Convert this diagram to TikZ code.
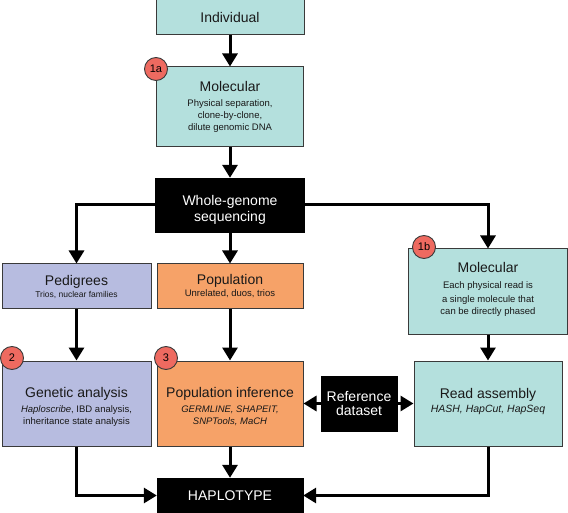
\documentclass[tikz,border=0pt]{standalone}
\usepackage{fontspec}
\setmainfont{Liberation Sans}
\usetikzlibrary{arrows.meta}
\definecolor{tealbox}{HTML}{B4E0DD}
\definecolor{lavbox}{HTML}{B7BCE0}
\definecolor{orgbox}{HTML}{F6A268}
\definecolor{redc}{HTML}{EE6A60}
\definecolor{edgec}{HTML}{3A3A3A}
\newcommand{\ttl}{\fontsize{14}{16}\selectfont}
\newcommand{\sbt}{\fontsize{9.5}{12}\selectfont}
\newcommand{\upstrut}[1]{\rule{0pt}{#1}}
\newcommand{\dnstrut}[1]{\rule[-#1]{0pt}{#1}}
\tikzset{
  box/.style={draw=edgec, line width=1pt, align=center, inner sep=2pt, text=black!90},
  blk/.style={fill=black, draw=black, align=center, text=white, inner sep=2pt},
  badge/.style={circle, draw=edgec, line width=0.9pt, fill=redc, minimum size=23pt, inner sep=0pt, font=\fontsize{11}{12}\selectfont},
  conn/.style={line width=3pt, -{Triangle[length=13pt,width=15pt]}}
}
\begin{document}
\begin{tikzpicture}[x=1pt,y=-1pt]
\useasboundingbox (0,0) rectangle (568,513);
% boxes
\node[box, fill=tealbox, minimum width=148pt, minimum height=35pt] (ind) at (230,17.5) {\ttl Individual};
\node[box, fill=tealbox, minimum width=147pt, minimum height=80pt] (molA) at (230,107) {\ttl Molecular\\[3pt]\sbt Physical separation,\\\sbt clone-by-clone,\\\sbt dilute genomic DNA};
\node[blk, minimum width=149pt, minimum height=54pt] (wgs) at (230,205) {\ttl\upstrut{19pt}Whole-genome\\[2pt]\ttl sequencing};
\node[box, fill=lavbox, minimum width=149pt, minimum height=45pt] (ped) at (76.5,286.5) {\ttl Pedigrees\\\fontsize{8.5}{10}\selectfont Trios, nuclear families};
\node[box, fill=orgbox, minimum width=146pt, minimum height=45pt] (pop) at (230,286.5) {\ttl Population\\\sbt Unrelated, duos, trios};
\node[box, fill=tealbox, minimum width=159pt, minimum height=85pt] (molB) at (488,291.5) {\ttl Molecular\\[4pt]\sbt Each physical read is\\[2pt]\sbt a single molecule that\\\sbt can be directly phased\dnstrut{7pt}};
\node[box, fill=lavbox, minimum width=149pt, minimum height=85pt] (gen) at (76.5,403.5) {\ttl\upstrut{17pt}Genetic analysis\\[3pt]\sbt\itshape Haploscribe\upshape, IBD analysis,\\\sbt inheritance state analysis};
\node[box, fill=orgbox, minimum width=146pt, minimum height=85pt] (popinf) at (230,403.5) {\ttl\upstrut{17pt}Population inference\\[3pt]\sbt\itshape GERMLINE, SHAPEIT,\\\sbt\itshape SNPTools, MaCH};
\node[blk, minimum width=76pt, minimum height=55pt] (ref) at (359,403.5) {\ttl Reference\\[2pt]\ttl dataset};
\node[box, fill=tealbox, minimum width=148pt, minimum height=85pt] (read) at (488,403.5) {\ttl Read assembly\\[2pt]\fontsize{10.5}{12}\selectfont\itshape HASH, HapCut, HapSeq\dnstrut{7pt}};
\node[blk, minimum width=146pt, minimum height=35pt] (hap) at (230,495.5) {\ttl HAPLOTYPE};
% badges
\node[badge] (bA) at (156,69) {1a};
\node[badge] (bB) at (424,247) {1b};
\node[badge] (b2) at (12,358) {2};
\node[badge] (b3) at (166,358) {3};
% connectors
\draw[conn] (ind) -- (molA);
\draw[conn] (molA) -- (wgs);
\draw[conn] (wgs.west) -| (ped.north);
\draw[conn] (wgs) -- (pop);
\draw[conn] (wgs.east) -| (molB.north);
\draw[conn] (ped) -- (gen);
\draw[conn] (pop) -- (popinf);
\draw[conn] (molB.south) -- (molB.south |- read.north);
\draw[conn] (popinf) -- (hap);
\draw[conn] (ref.west) -- (popinf.east |- ref.west);
\draw[conn] (ref.east) -- (read.west |- ref.east);
\draw[conn] (gen.south) |- (hap.west);
\draw[conn] (read.south) |- (hap.east);
\end{tikzpicture}
\end{document}
